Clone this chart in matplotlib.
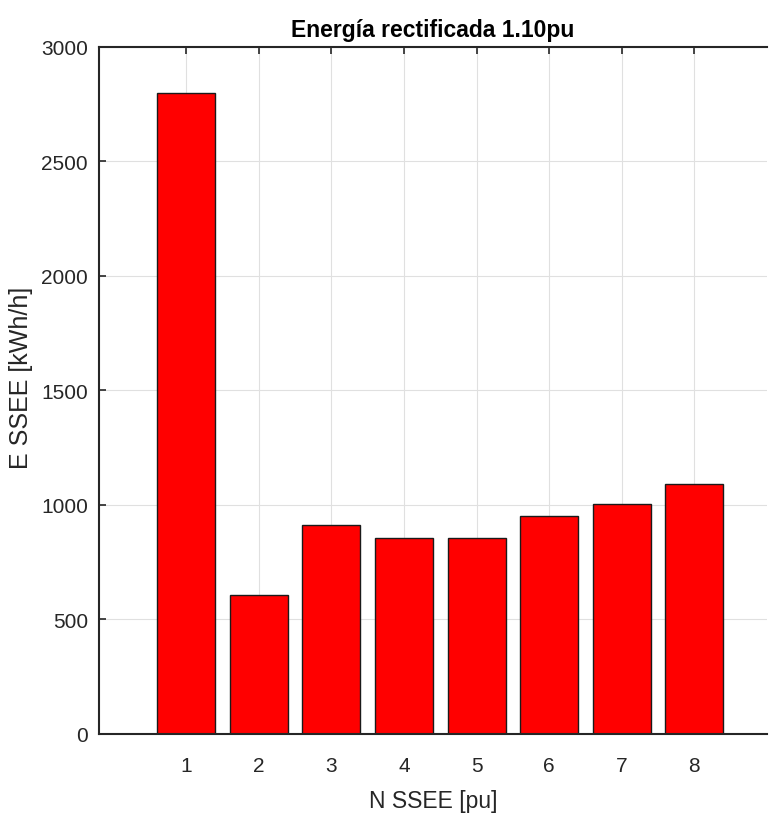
import matplotlib
matplotlib.use("Agg")
import matplotlib.pyplot as plt

stations = [1, 2, 3, 4, 5, 6, 7, 8]
energy = [2800, 605, 913, 857, 857, 953, 1005, 1091]
yticks = [0, 500, 1000, 1500, 2000, 2500, 3000]

font = "Liberation Sans"

fig = plt.figure(figsize=(7.71, 8.2), dpi=100)
ax = fig.add_axes([0.1284, 0.1037, 0.8664, 0.838])
ax.set_axisbelow(True)
ax.grid(True, color="#e0e0e0", linewidth=0.8)
ax.bar(stations, energy, width=0.8, color="#ff0000", edgecolor="#1a1a1a", linewidth=1.0)
ax.set_xlim(-0.2, 9)
ax.set_ylim(0, 3000)
ax.set_xticks(stations)
ax.set_yticks(yticks)
ax.tick_params(direction="in", length=5, width=1.2, top=True, right=False,
               labelsize=15, colors="#262626")
ax.tick_params(axis="y", pad=8)
ax.tick_params(axis="x", pad=16)
for lab in ax.get_xticklabels() + ax.get_yticklabels():
    lab.set_fontfamily(font)
for side in ["left", "bottom", "top"]:
    ax.spines[side].set_linewidth(1.5)
    ax.spines[side].set_color("#262626")
ax.spines["right"].set_visible(False)
ax.set_xlabel("N SSEE [pu]", fontsize=16.5, family=font, color="#262626", labelpad=10)
ax.set_ylabel("E SSEE [kWh/h]", fontsize=18, family=font, color="#262626")
ax.yaxis.set_label_coords(-0.099, 0.52)
ax.set_title("Energía rectificada 1.10pu", fontsize=16.5, fontweight="bold", family=font, pad=8)
fig.savefig("out.png", dpi=100)
